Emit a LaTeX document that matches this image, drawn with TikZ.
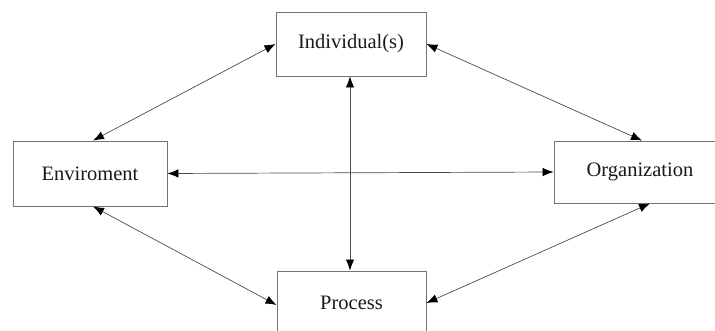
\documentclass[tikz,border=0pt]{standalone}
\usepackage{fontspec}
\setmainfont{Liberation Serif}
\usepackage{tikz}
\usetikzlibrary{arrows.meta,positioning}

\begin{document}
\begin{tikzpicture}[
    x=1pt, y=-1pt,
    box/.style={
        rectangle,
        draw=black!55,
        line width=0.9pt,
        inner sep=2pt,
        text=black!90,
        font=\fontsize{20.5}{24}\selectfont
    },
    link/.style={
        draw=black!70,
        line width=0.7pt,
        {Latex[length=11pt,width=8.5pt,color=black]}-{Latex[length=11pt,width=8.5pt,color=black]}
    }
]
\useasboundingbox (0,0) rectangle (715,331);

% ---------------- Boxes ----------------
\node[box, minimum width=150pt, minimum height=64pt] (ind)  at (351,44)    {Individual(s)};
\node[box, minimum width=154pt, minimum height=65pt] (env)  at (90,173.5)  {Enviroment};
\node[box, minimum width=172pt, minimum height=62pt] (org)  at (640,172)   {Organization};
\node[box, minimum width=149pt, minimum height=64pt] (proc) at (351.5,303) {Process};

% ---------------- Links ----------------
\draw[link] (ind.west) -- ([xshift=3pt]env.north);
\draw[link] (ind.east) -- ([xshift=2pt]org.north);
\draw[link] ([xshift=3pt]env.south) -- ([yshift=-2pt]proc.west);
\draw[link] ([xshift=10pt]org.south) -- (proc.east);
\draw[link] ([xshift=-1pt]ind.south) -- ([xshift=-1.5pt]proc.north);
\draw[link] (env.east) -- (org.west);

\end{tikzpicture}
\end{document}
